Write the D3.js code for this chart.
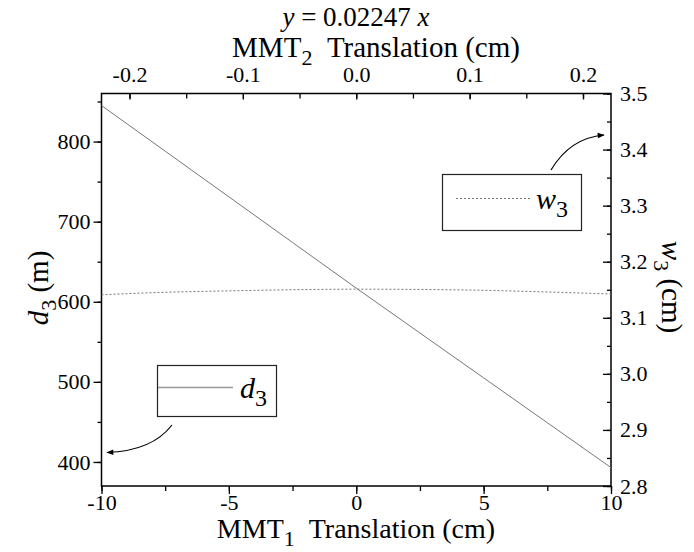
<!DOCTYPE html>
<html>
<head>
<meta charset="utf-8">
<script src="https://cdn.jsdelivr.net/npm/d3@7"></script>
<style>
body { margin: 0; background: #fff; }
</style>
</head>
<body>
<script>
// data
var xVals = [-10, -7.5, -5, -2.5, 0, 2.5, 5, 7.5, 10];
var d3Vals = [845, 788, 731, 674, 617, 561, 505, 449, 393];
var w3Vals = [3.141, 3.1455, 3.148, 3.150, 3.151, 3.1505, 3.149, 3.146, 3.1425];
var slope = 0.02247;

var xTicks = [-10, -5, 0, 5, 10];
var xTopTicks = [-0.2, -0.1, 0.0, 0.1, 0.2];
var yLeftTicks = [400, 500, 600, 700, 800];
var yRightTicks = [2.8, 2.9, 3.0, 3.1, 3.2, 3.3, 3.4, 3.5];

var width = 694, height = 552;
var pLeft = 101.5, pRight = 611, pTop = 93.5, pBottom = 486;
var NB = "\u00a0";

var svg = d3.select("body").append("svg")
    .attr("width", width)
    .attr("height", height)
    .style("font-family", "'Liberation Serif'");

var x = d3.scaleLinear().domain([-10, 10]).range([pLeft, pRight]);
var xTop = d3.scaleLinear().domain([-10 * slope, 10 * slope]).range([pLeft, pRight]);
var yL = d3.scaleLinear().domain([370, 860]).range([pBottom, pTop]);
var yR = d3.scaleLinear().domain([2.8, 3.5]).range([pBottom, pTop]);

function fmt(f) {
  return function(d) { return d3.format(f)(d).replace("\u2212", "-"); };
}

function serif(t, size) {
  t.attr("font-family", "Liberation Serif")
   .style("font-family", "'Liberation Serif'")
   .style("font-size", size + "px");
  return t;
}

function styleAxis(g) {
  g.attr("font-family", "Liberation Serif");
  g.select(".domain").remove();
  g.selectAll("line").attr("stroke", "#000").attr("stroke-width", 1.3);
  g.selectAll("text").attr("fill", "#000").call(serif, 22);
}

// minor ticks
function range(a, b, s) { return d3.range(a, b + s / 2, s); }

svg.append("g").attr("transform", "translate(0," + pBottom + ")")
  .call(d3.axisBottom(x).tickValues(range(-10, 10, 2.5)).tickFormat("").tickSize(5))
  .call(styleAxis);
svg.append("g").attr("transform", "translate(0," + pTop + ")")
  .call(d3.axisTop(xTop).tickValues(range(-0.2, 0.2, 0.05)).tickFormat("").tickSize(-5))
  .call(styleAxis);
svg.append("g").attr("transform", "translate(" + pLeft + ",0)")
  .call(d3.axisLeft(yL).tickValues(range(400, 850, 50)).tickFormat("").tickSize(4))
  .call(styleAxis);
svg.append("g").attr("transform", "translate(" + pRight + ",0)")
  .call(d3.axisRight(yR).tickValues(range(2.8, 3.5, 0.05)).tickFormat("").tickSize(-4))
  .call(styleAxis);

// major ticks
svg.append("g").attr("transform", "translate(0," + pBottom + ")")
  .call(d3.axisBottom(x).tickValues(xTicks).tickFormat(fmt("d")).tickSize(8).tickPadding(0))
  .call(styleAxis);
svg.append("g").attr("transform", "translate(0," + pTop + ")")
  .call(d3.axisTop(xTop).tickValues(xTopTicks).tickFormat(fmt(".1f")).tickSize(-6).tickPadding(12))
  .call(styleAxis);
svg.append("g").attr("transform", "translate(" + pLeft + ",0)")
  .call(d3.axisLeft(yL).tickValues(yLeftTicks).tickFormat(fmt("d")).tickSize(8).tickPadding(3))
  .call(styleAxis);
svg.append("g").attr("transform", "translate(" + pRight + ",0)")
  .call(d3.axisRight(yR).tickValues(yRightTicks).tickFormat(fmt(".1f")).tickSize(-8).tickPadding(9))
  .call(styleAxis);

// frame
svg.append("rect")
    .attr("x", pLeft).attr("y", pTop)
    .attr("width", pRight - pLeft).attr("height", pBottom - pTop)
    .attr("fill", "none").attr("stroke", "#000").attr("stroke-width", 1.5);

// series
var lineD = d3.line().x(function(d, i) { return x(xVals[i]); }).y(function(d) { return yL(d); });
var lineW = d3.line().curve(d3.curveMonotoneX)
    .x(function(d, i) { return x(xVals[i]); }).y(function(d) { return yR(d); });

svg.append("path").datum(d3Vals)
    .attr("d", lineD).attr("fill", "none")
    .attr("stroke", "#777").attr("stroke-width", 1);
svg.append("path").datum(w3Vals)
    .attr("d", lineW).attr("fill", "none")
    .attr("stroke", "#777").attr("stroke-width", 1)
    .attr("stroke-dasharray", "2,2");

// legend boxes
svg.append("rect").attr("x", 442.5).attr("y", 174.5).attr("width", 139).attr("height", 56)
    .attr("fill", "#fff").attr("stroke", "#222").attr("stroke-width", 1.2);
svg.append("line").attr("x1", 456).attr("x2", 530).attr("y1", 198.5).attr("y2", 198.5)
    .attr("stroke", "#777").attr("stroke-dasharray", "2,2");
var tw = svg.append("text").attr("x", 536).attr("y", 209).call(serif, 30);
tw.append("tspan").text("w").style("font-style", "italic");
tw.append("tspan").text("3").attr("dy", 8).style("font-size", "24px");

svg.append("rect").attr("x", 157.5).attr("y", 365.5).attr("width", 119).attr("height", 51)
    .attr("fill", "#fff").attr("stroke", "#222").attr("stroke-width", 1.2);
svg.append("line").attr("x1", 158).attr("x2", 233).attr("y1", 387.5).attr("y2", 387.5)
    .attr("stroke", "#999").attr("stroke-width", 1.5);
var td = svg.append("text").attr("x", 240).attr("y", 398).call(serif, 30);
td.append("tspan").text("d").style("font-style", "italic");
td.append("tspan").text("3").attr("dy", 8).style("font-size", "24px");

// arrows
svg.append("defs").append("marker")
    .attr("id", "arr").attr("viewBox", "0 0 10 10")
    .attr("refX", 9).attr("refY", 5)
    .attr("markerWidth", 9).attr("markerHeight", 7)
    .attr("markerUnits", "userSpaceOnUse")
    .attr("orient", "auto")
  .append("path").attr("d", "M0,1 L10,5 L0,9 Z").attr("fill", "#000");

var p1 = d3.path();
p1.moveTo(551, 170);
p1.quadraticCurveTo(570, 138, 604, 135);
svg.append("path").attr("d", p1.toString()).attr("fill", "none")
    .attr("stroke", "#000").attr("stroke-width", 1.2).attr("marker-end", "url(#arr)");

var p2 = d3.path();
p2.moveTo(172, 425);
p2.quadraticCurveTo(152, 451, 107, 452.5);
svg.append("path").attr("d", p2.toString()).attr("fill", "none")
    .attr("stroke", "#000").attr("stroke-width", 1.2).attr("marker-end", "url(#arr)");

// titles
var t0 = svg.append("text").attr("x", 356).attr("y", 26).attr("text-anchor", "middle")
    .call(serif, 27);
t0.append("tspan").text("y").style("font-style", "italic");
t0.append("tspan").text(NB + "=" + NB + "0.02247" + NB);
t0.append("tspan").text("x").style("font-style", "italic");

var t1 = svg.append("text").attr("x", 376).attr("y", 57).attr("text-anchor", "middle")
    .call(serif, 29);
t1.append("tspan").text("MMT");
t1.append("tspan").text("2").attr("dy", 8).style("font-size", "22px");
t1.append("tspan").text(NB + NB + "Translation (cm)").attr("dy", -8);

var t2 = svg.append("text").attr("x", 356).attr("y", 538).attr("text-anchor", "middle")
    .call(serif, 28);
t2.append("tspan").text("MMT");
t2.append("tspan").text("1").attr("dy", 8).style("font-size", "22px");
t2.append("tspan").text(NB + NB + "Translation (cm)").attr("dy", -8);

var t3 = svg.append("text").attr("transform", "translate(48,288) rotate(-90)")
    .attr("text-anchor", "middle").call(serif, 29);
t3.append("tspan").text("d").style("font-style", "italic");
t3.append("tspan").text("3").attr("dy", 8).style("font-size", "22px");
t3.append("tspan").text(NB + "(m)").attr("dy", -8);

var t4 = svg.append("text").attr("transform", "translate(662,287) rotate(90)")
    .attr("text-anchor", "middle").call(serif, 29);
t4.append("tspan").text("w").style("font-style", "italic");
t4.append("tspan").text("3").attr("dy", 8).style("font-size", "22px");
t4.append("tspan").text(NB + "(cm)").attr("dy", -8);

// force layout of every text so the serif face is resolved before the snapshot
svg.selectAll("text").each(function() { this.getComputedTextLength(); });
</script>
</body>
</html>
